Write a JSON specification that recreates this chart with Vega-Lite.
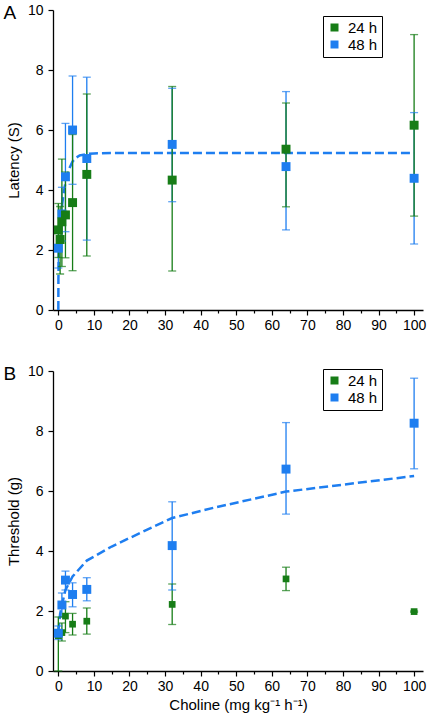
{
  "$schema": "https://vega.github.io/schema/vega-lite/v6.json",
  "padding": {"left": 3, "top": 3, "right": 5, "bottom": 3},
  "background": "white",
  "spacing": 32,
  "config": {
    "view": {"stroke": null},
    "font": "Liberation Sans",
    "axis": {"labelFont": "Liberation Sans", "titleFont": "Liberation Sans", "labelFontSize": 14, "titleFontSize": 15, "titleFontWeight": "normal", "labelColor": "black", "titleColor": "black", "domainColor": "black", "tickColor": "black", "grid": false, "domainWidth": 1.3, "tickWidth": 1.2},
    "legend": {"strokeColor": "black"},
    "title": {"font": "Liberation Sans", "fontSize": 19, "fontWeight": "normal", "color": "black"}
  },
  "datasets": {
    "lat": [
      {"dose": 0, "group": "48 h", "mean": 2.06, "lo": 1.4, "hi": 2.75},
      {"dose": 1, "group": "48 h", "mean": 3.2, "lo": 2.3, "hi": 4.09},
      {"dose": 2, "group": "48 h", "mean": 4.44, "lo": 2.61, "hi": 6.22},
      {"dose": 4, "group": "48 h", "mean": 6.0, "lo": 4.19, "hi": 7.8},
      {"dose": 8, "group": "48 h", "mean": 5.05, "lo": 2.33, "hi": 7.76},
      {"dose": 32, "group": "48 h", "mean": 5.52, "lo": 3.61, "hi": 7.39},
      {"dose": 64, "group": "48 h", "mean": 4.78, "lo": 2.67, "hi": 7.28},
      {"dose": 100, "group": "48 h", "mean": 4.39, "lo": 2.2, "hi": 6.58},
      {"dose": 0, "group": "24 h", "mean": 2.67, "lo": 1.75, "hi": 3.55},
      {"dose": 0.5, "group": "24 h", "mean": 2.35, "lo": 1.2, "hi": 3.45},
      {"dose": 1, "group": "24 h", "mean": 2.94, "lo": 1.45, "hi": 5.03},
      {"dose": 2, "group": "24 h", "mean": 3.17, "lo": 1.74, "hi": 4.6},
      {"dose": 4, "group": "24 h", "mean": 3.58, "lo": 1.31, "hi": 5.85},
      {"dose": 8, "group": "24 h", "mean": 4.52, "lo": 1.8, "hi": 7.2},
      {"dose": 32, "group": "24 h", "mean": 4.33, "lo": 1.3, "hi": 7.45},
      {"dose": 64, "group": "24 h", "mean": 5.36, "lo": 3.44, "hi": 6.9},
      {"dose": 100, "group": "24 h", "mean": 6.16, "lo": 3.13, "hi": 9.18}
    ],
    "thr": [
      {"dose": 0, "group": "24 h", "mean": 1.18, "lo": 0, "hi": 1.8},
      {"dose": 1, "group": "24 h", "mean": 1.28, "lo": 1.0, "hi": 1.6},
      {"dose": 2, "group": "24 h", "mean": 1.83, "lo": 1.28, "hi": 2.31},
      {"dose": 4, "group": "24 h", "mean": 1.56, "lo": 1.2, "hi": 1.92},
      {"dose": 8, "group": "24 h", "mean": 1.66, "lo": 1.23, "hi": 2.1},
      {"dose": 32, "group": "24 h", "mean": 2.22, "lo": 1.55, "hi": 2.9},
      {"dose": 64, "group": "24 h", "mean": 3.07, "lo": 2.68, "hi": 3.46},
      {"dose": 100, "group": "24 h", "mean": 1.98, "lo": 1.96, "hi": 2.0},
      {"dose": 0, "group": "48 h", "mean": 1.26, "lo": 1.05, "hi": 1.5},
      {"dose": 1, "group": "48 h", "mean": 2.2, "lo": 1.8, "hi": 2.6},
      {"dose": 2, "group": "48 h", "mean": 3.03, "lo": 2.7, "hi": 3.33},
      {"dose": 4, "group": "48 h", "mean": 2.55, "lo": 2.14, "hi": 2.94},
      {"dose": 8, "group": "48 h", "mean": 2.72, "lo": 2.34, "hi": 3.11},
      {"dose": 32, "group": "48 h", "mean": 4.18, "lo": 2.7, "hi": 5.64},
      {"dose": 64, "group": "48 h", "mean": 6.73, "lo": 5.23, "hi": 8.28},
      {"dose": 100, "group": "48 h", "mean": 8.26, "lo": 6.74, "hi": 9.76}
    ],
    "fitA": [
      {"dose": 0, "value": 0}, {"dose": 0.02, "value": 1.0}, {"dose": 0.1, "value": 1.7},
      {"dose": 0.3, "value": 2.4}, {"dose": 0.6, "value": 3.0}, {"dose": 1, "value": 3.45},
      {"dose": 1.5, "value": 3.9}, {"dose": 2, "value": 4.25}, {"dose": 3, "value": 4.7},
      {"dose": 4, "value": 4.95}, {"dose": 5, "value": 5.08}, {"dose": 6, "value": 5.15},
      {"dose": 8, "value": 5.2}, {"dose": 10, "value": 5.22}, {"dose": 15, "value": 5.23},
      {"dose": 100, "value": 5.23}
    ],
    "fitB": [
      {"dose": 0, "value": 1.3}, {"dose": 0.5, "value": 1.9}, {"dose": 1, "value": 2.2},
      {"dose": 2, "value": 2.7}, {"dose": 4, "value": 3.15}, {"dose": 8, "value": 3.68},
      {"dose": 15, "value": 4.15}, {"dose": 23, "value": 4.6}, {"dose": 32, "value": 5.1},
      {"dose": 44, "value": 5.45}, {"dose": 64, "value": 5.98}, {"dose": 100, "value": 6.5}
    ]
  },
  "resolve": {"legend": {"color": "independent"}, "scale": {"color": "independent"}},
  "vconcat": [
    {
      "width": 370, "height": 300,
      "title": {"text": "A", "anchor": "start", "frame": "bounds", "orient": "top", "offset": 0, "dy": 20, "dx": -3},
      "encoding": {
        "x": {"field": "dose", "type": "quantitative", "title": null,
              "scale": {"domain": [-1.5, 102.5], "nice": false, "zero": false},
              "axis": {"values": [0,5,10,15,20,25,30,35,40,45,50,55,60,65,70,75,80,85,90,95,100],
                       "labelExpr": "datum.value % 10 === 0 ? datum.label : ''",
                       "tickSize": {"condition": {"test": "datum.value % 10 === 0", "value": 5}, "value": 3},
                       "labelPadding": 3, "labelOverlap": false}},
        "color": {"field": "group", "type": "nominal", "scale": {"domain": ["24 h", "48 h"], "range": ["#177d17", "#1e7ef0"]},
                  "legend": {"title": null, "orient": "none", "legendX": 270, "legendY": 6, "symbolType": "square", "symbolSize": 64,
                             "labelFontSize": 15, "labelFont": "Liberation Sans", "labelColor": "black", "strokeColor": "black", "padding": 4, "rowPadding": 1, "labelOffset": 6, "symbolStrokeWidth": 0, "symbolOpacity": 1}}
      },
      "layer": [
        {"data": {"name": "fitA"},
         "mark": {"type": "line", "color": "#1e7ef0", "strokeWidth": 2.5, "strokeDash": [9, 4], "clip": true},
         "encoding": {"color": {"value": "#1e7ef0"},
            "y": {"field": "value", "type": "quantitative", "title": "Latency (S)",
            "scale": {"domain": [0, 10], "nice": false},
            "axis": {"values": [0,1,2,3,4,5,6,7,8,9,10], "labelExpr": "datum.value % 2 === 0 ? datum.label : ''",
                     "tickSize": {"condition": {"test": "datum.value % 2 === 0", "value": 5}, "value": 3},
                     "labelPadding": 5, "titlePadding": 6, "labelOverlap": false}}}},
        {"data": {"name": "lat"},
         "mark": {"type": "rule", "strokeWidth": 1.3},
         "encoding": {"y": {"field": "lo", "type": "quantitative", "title": "Latency (S)"}, "y2": {"field": "hi"}}},
        {"data": {"name": "lat"},
         "mark": {"type": "tick", "orient": "horizontal", "size": 8, "thickness": 1.3},
         "encoding": {"y": {"field": "lo", "type": "quantitative", "title": "Latency (S)"}}},
        {"data": {"name": "lat"},
         "mark": {"type": "tick", "orient": "horizontal", "size": 8, "thickness": 1.3},
         "encoding": {"y": {"field": "hi", "type": "quantitative", "title": "Latency (S)"}}},
        {"data": {"name": "lat"},
         "mark": {"type": "square", "filled": true, "opacity": 1, "size": 80},
         "encoding": {"y": {"field": "mean", "type": "quantitative", "title": "Latency (S)"}}}
      ]
    },
    {
      "width": 370, "height": 300,
      "title": {"text": "B", "anchor": "start", "frame": "bounds", "orient": "top", "offset": 0, "dy": 20, "dx": -3},
      "encoding": {
        "x": {"field": "dose", "type": "quantitative", "title": "Choline (mg kg⁻¹ h⁻¹)",
              "scale": {"domain": [-1.5, 102.5], "nice": false, "zero": false},
              "axis": {"values": [0,5,10,15,20,25,30,35,40,45,50,55,60,65,70,75,80,85,90,95,100],
                       "labelExpr": "datum.value % 10 === 0 ? datum.label : ''",
                       "tickSize": {"condition": {"test": "datum.value % 10 === 0", "value": 5}, "value": 3},
                       "labelPadding": 3, "titlePadding": 4, "labelOverlap": false, "titleX": 185}},
        "color": {"field": "group", "type": "nominal", "scale": {"domain": ["24 h", "48 h"], "range": ["#177d17", "#1e7ef0"]},
                  "legend": {"title": null, "orient": "none", "legendX": 270, "legendY": -2, "symbolType": "square", "symbolSize": 64,
                             "labelFontSize": 15, "labelFont": "Liberation Sans", "labelColor": "black", "strokeColor": "#000000", "padding": 4, "rowPadding": 1, "labelOffset": 6, "symbolStrokeWidth": 0, "symbolOpacity": 1}}
      },
      "layer": [
        {"data": {"name": "fitB"},
         "mark": {"type": "line", "color": "#1e7ef0", "strokeWidth": 2.5, "strokeDash": [9, 4], "clip": true},
         "encoding": {"color": {"value": "#1e7ef0"},
            "y": {"field": "value", "type": "quantitative", "title": "Threshold (g)",
            "scale": {"domain": [0, 10], "nice": false},
            "axis": {"values": [0,1,2,3,4,5,6,7,8,9,10], "labelExpr": "datum.value % 2 === 0 ? datum.label : ''",
                     "tickSize": {"condition": {"test": "datum.value % 2 === 0", "value": 5}, "value": 3},
                     "labelPadding": 5, "titlePadding": 6, "labelOverlap": false}}}},
        {"data": {"name": "thr"},
         "mark": {"type": "rule", "strokeWidth": 1.3},
         "encoding": {"y": {"field": "lo", "type": "quantitative", "title": "Threshold (g)"}, "y2": {"field": "hi"}}},
        {"data": {"name": "thr"},
         "mark": {"type": "tick", "orient": "horizontal", "size": 8, "thickness": 1.3},
         "encoding": {"y": {"field": "lo", "type": "quantitative", "title": "Threshold (g)"}}},
        {"data": {"name": "thr"},
         "mark": {"type": "tick", "orient": "horizontal", "size": 8, "thickness": 1.3},
         "encoding": {"y": {"field": "hi", "type": "quantitative", "title": "Threshold (g)"}}},
        {"data": {"name": "thr"},
         "transform": [{"filter": "datum.group === '24 h'"}],
         "mark": {"type": "square", "filled": true, "opacity": 1, "size": 45},
         "encoding": {"y": {"field": "mean", "type": "quantitative", "title": "Threshold (g)"}}},
        {"data": {"name": "thr"},
         "transform": [{"filter": "datum.group === '48 h'"}],
         "mark": {"type": "square", "filled": true, "opacity": 1, "size": 80},
         "encoding": {"y": {"field": "mean", "type": "quantitative", "title": "Threshold (g)"}}}
      ]
    }
  ]
}
